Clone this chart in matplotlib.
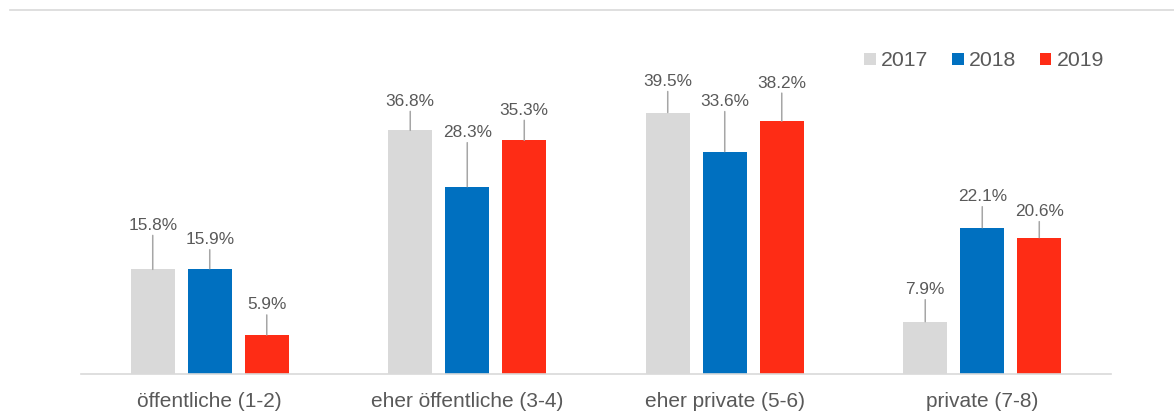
import matplotlib.pyplot as plt
from matplotlib.lines import Line2D
from matplotlib.patches import Patch
import numpy as np

plt.rcParams['font.family'] = ['Liberation Sans', 'DejaVu Sans']

CATEGORIES = ["öffentliche (1-2)", "eher öffentliche (3-4)", "eher private (5-6)", "private (7-8)"]
YEARS = ["2017", "2018", "2019"]
VALUES_2017 = [15.8, 36.8, 39.5, 7.9]
VALUES_2018 = [15.9, 28.3, 33.6, 22.1]
VALUES_2019 = [5.9, 35.3, 38.2, 20.6]

COLORS = ["#d9d9d9", "#0070c0", "#fe2c15"]
TEXT_COLOR = "#595959"
# label distance above bar top (pixels), per series per group
LABEL_OFFSETS = [
    [44, 29, 31, 32],
    [29, 54, 50, 31],
    [30, 30, 38, 26],
]


def main():
    W, H = 1174, 419
    fig = plt.figure(figsize=(W / 100, H / 100), dpi=100)
    ax_left, ax_right = 81, 1111
    ax_bottom, ax_top = 374, 40
    ax = fig.add_axes([ax_left / W, 1 - ax_bottom / H,
                       (ax_right - ax_left) / W, (ax_bottom - ax_top) / H])

    px_per_unit = 6.62
    ymax = (ax_bottom - ax_top) / px_per_unit
    x = np.arange(len(CATEGORIES))
    width = 0.171
    step = 0.2214

    all_values = [VALUES_2017, VALUES_2018, VALUES_2019]
    for i, (vals, color, year) in enumerate(zip(all_values, COLORS, YEARS)):
        pos = x + (i - 1) * step
        ax.bar(pos, vals, width, color=color, label=year, zorder=2)
        for j, (xp, v) in enumerate(zip(pos, vals)):
            off = LABEL_OFFSETS[i][j]
            ax.annotate("", xy=(xp, v), xytext=(0, off - 10), textcoords="offset pixels",
                        arrowprops=dict(arrowstyle="-", color="#a6a6a6", lw=1.1,
                                        shrinkA=0, shrinkB=0))
            ax.annotate(f"{v}%", xy=(xp, v), xytext=(0, off), textcoords="offset pixels",
                        ha="center", va="center", fontsize=12.4, color=TEXT_COLOR)

    ax.set_xlim(-0.5, len(CATEGORIES) - 0.5)
    ax.set_ylim(0, ymax)
    ax.set_xticks(x)
    ax.set_xticklabels(CATEGORIES, fontsize=15, color=TEXT_COLOR)
    ax.tick_params(axis="x", length=0, pad=13)
    ax.set_yticks([])
    for s in ["top", "left", "right"]:
        ax.spines[s].set_visible(False)
    ax.spines["bottom"].set_color("#d9d9d9")
    ax.spines["bottom"].set_linewidth(1.2)

    handles = [Patch(facecolor=c, edgecolor="none") for c in COLORS]
    fig.legend(handles, YEARS, loc="center right", bbox_to_anchor=(1123 / W, 1 - 61 / H),
               ncol=3, frameon=False, fontsize=15.3, labelcolor=TEXT_COLOR,
               handlelength=0.55, handleheight=0.55, handletextpad=0.25, columnspacing=1.1)

    fig.add_artist(Line2D([10 / W, 1], [1 - 10 / H, 1 - 10 / H], color="#d9d9d9", lw=1.2))

    fig.savefig("out.png", dpi=100)


if __name__ == '__main__':
    main()
